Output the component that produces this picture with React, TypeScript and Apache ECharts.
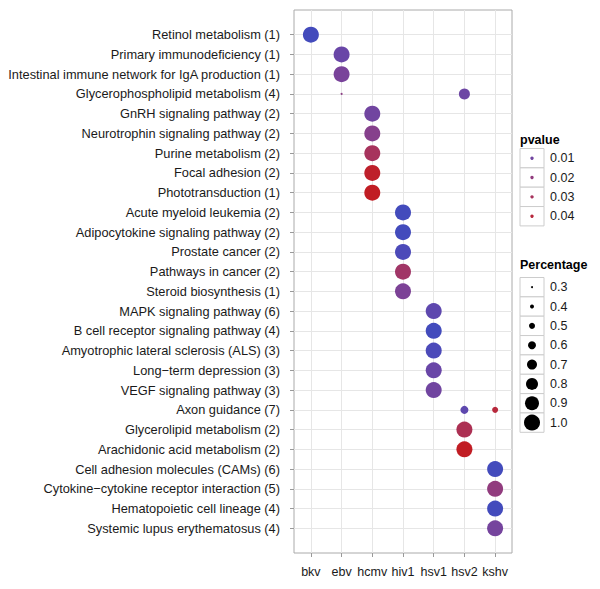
import React, { useEffect, useRef } from "react";
import * as echarts from "echarts";

const viruses = ["bkv", "ebv", "hcmv", "hiv1", "hsv1", "hsv2", "kshv"];

const pathways = [
  "Retinol metabolism (1)",
  "Primary immunodeficiency (1)",
  "Intestinal immune network for IgA production (1)",
  "Glycerophospholipid metabolism (4)",
  "GnRH signaling pathway (2)",
  "Neurotrophin signaling pathway (2)",
  "Purine metabolism (2)",
  "Focal adhesion (2)",
  "Phototransduction (1)",
  "Acute myeloid leukemia (2)",
  "Adipocytokine signaling pathway (2)",
  "Prostate cancer (2)",
  "Pathways in cancer (2)",
  "Steroid biosynthesis (1)",
  "MAPK signaling pathway (6)",
  "B cell receptor signaling pathway (4)",
  "Amyotrophic lateral sclerosis (ALS) (3)",
  "Long\u2212term depression (3)",
  "VEGF signaling pathway (3)",
  "Axon guidance (7)",
  "Glycerolipid metabolism (2)",
  "Arachidonic acid metabolism (2)",
  "Cell adhesion molecules (CAMs) (6)",
  "Cytokine\u2212cytokine receptor interaction (5)",
  "Hematopoietic cell lineage (4)",
  "Systemic lupus erythematosus (4)",
];

// one entry per point
const pointPathway = [0, 1, 2, 3, 3, 4, 5, 6, 7, 8, 9, 10, 11, 12, 13, 14, 15, 16, 17, 18, 19, 19, 20, 21, 22, 23, 24, 25];
const pointVirus = [0, 1, 1, 1, 5, 2, 2, 2, 2, 2, 3, 3, 3, 3, 3, 4, 4, 4, 4, 4, 5, 6, 5, 5, 6, 6, 6, 6];
const pointPvalue = [
  0.002, 0.008, 0.012, 0.018, 0.009, 0.010, 0.016, 0.030, 0.045, 0.047,
  0.002, 0.002, 0.003, 0.027, 0.013, 0.006, 0.002, 0.003, 0.008, 0.010,
  0.006, 0.040, 0.033, 0.047, 0.002, 0.020, 0.002, 0.011,
];
const pointPercentage = [
  1.0, 1.0, 1.0, 0.3, 0.75, 1.0, 1.0, 1.0, 1.0, 1.0,
  1.0, 1.0, 1.0, 1.0, 1.0, 1.0, 1.0, 1.0, 1.0, 1.0,
  0.6, 0.5, 1.0, 1.0, 1.0, 1.0, 1.0, 1.0,
];

const pvalueBreaks = [0.01, 0.02, 0.03, 0.04];
const percentageBreaks = [0.3, 0.4, 0.5, 0.6, 0.7, 0.8, 0.9, 1.0];

const P_MIN = 0.001;
const P_MAX = 0.048;
const LOW = "#3a4cc0";
const HIGH = "#c21b20";

function hexToRgb(h: string) {
  return [1, 3, 5].map((i) => parseInt(h.slice(i, i + 2), 16));
}
function toLin(c: number) {
  c /= 255;
  return c <= 0.04045 ? c / 12.92 : Math.pow((c + 0.055) / 1.055, 2.4);
}
function fromLin(c: number) {
  const v = c <= 0.0031308 ? 12.92 * c : 1.055 * Math.pow(c, 1 / 2.4) - 0.055;
  return Math.max(0, Math.min(255, Math.round(v * 255)));
}
function rgbToLab(rgb: number[]) {
  const [r, g, b] = rgb.map(toLin);
  const x = (0.4124 * r + 0.3576 * g + 0.1805 * b) / 0.95047;
  const y = 0.2126 * r + 0.7152 * g + 0.0722 * b;
  const z = (0.0193 * r + 0.1192 * g + 0.9505 * b) / 1.08883;
  const f = (t: number) => (t > 0.008856 ? Math.cbrt(t) : 7.787 * t + 16 / 116);
  const fx = f(x), fy = f(y), fz = f(z);
  return [116 * fy - 16, 500 * (fx - fy), 200 * (fy - fz)];
}
function labToRgb(lab: number[]) {
  const fy = (lab[0] + 16) / 116;
  const fx = fy + lab[1] / 500;
  const fz = fy - lab[2] / 200;
  const fi = (t: number) => (t * t * t > 0.008856 ? t * t * t : (t - 16 / 116) / 7.787);
  const x = fi(fx) * 0.95047, y = fi(fy), z = fi(fz) * 1.08883;
  const r = 3.2406 * x - 1.5372 * y - 0.4986 * z;
  const g = -0.9689 * x + 1.8758 * y + 0.0415 * z;
  const b = 0.0557 * x - 0.204 * y + 1.057 * z;
  return [fromLin(r), fromLin(g), fromLin(b)];
}
const labLow = rgbToLab(hexToRgb(LOW));
const labHigh = rgbToLab(hexToRgb(HIGH));
function pColor(p: number) {
  const t = Math.max(0, Math.min(1, (p - P_MIN) / (P_MAX - P_MIN)));
  const lab = labLow.map((v, i) => v + (labHigh[i] - v) * t);
  const [r, g, b] = labToRgb(lab);
  return `rgb(${r},${g},${b})`;
}
function pctSize(pct: number) {
  return Math.max(2, 20 * pct - 4);
}

const FONT = "Liberation Sans";
const FS = 12.5;
const FS_Y = 12.8;
const GRID = "#e6e6e6";

export default function App() {
  const ref = useRef<HTMLDivElement>(null);
  useEffect(() => {
    if (!ref.current) return;
    const chart = echarts.init(ref.current, null, { renderer: "svg" });

    const data = pointPathway.map((py, i) => ({
      value: [pointVirus[i], py, pointPvalue[i], pointPercentage[i]],
      symbolSize: pctSize(pointPercentage[i]),
      itemStyle: { color: pColor(pointPvalue[i]) },
    }));

    const graphics: any[] = [];
    const keyX = 520, keyW = 24, keyH = 19.35;
    graphics.push({
      type: "text", left: 520, top: 133,
      style: { text: "pvalue", font: `bold ${FS}px ${FONT}`, fill: "#000" },
    });
    const pTop = 148.5;
    pvalueBreaks.forEach((p, i) => {
      const y = pTop + i * keyH;
      graphics.push({
        type: "rect", shape: { x: keyX, y, width: keyW, height: keyH },
        style: { fill: "#fff", stroke: "#cccccc", lineWidth: 1 },
      });
      graphics.push({
        type: "circle", shape: { cx: keyX + keyW / 2, cy: y + keyH / 2, r: 1.7 },
        style: { fill: pColor(p) },
      });
      graphics.push({
        type: "text", x: 550, y: y + keyH / 2,
        style: { text: p.toFixed(2), font: `${FS}px ${FONT}`, fill: "#1a1a1a", verticalAlign: "middle" },
      });
    });
    graphics.push({
      type: "text", left: 520, top: 258,
      style: { text: "Percentage", font: `bold ${FS}px ${FONT}`, fill: "#000" },
    });
    const sTop = 277.5;
    percentageBreaks.forEach((s, i) => {
      const y = sTop + i * keyH;
      graphics.push({
        type: "rect", shape: { x: keyX, y, width: keyW, height: keyH },
        style: { fill: "#fff", stroke: "#cccccc", lineWidth: 1 },
      });
      graphics.push({
        type: "circle", shape: { cx: keyX + keyW / 2, cy: y + keyH / 2, r: pctSize(s) / 2 },
        style: { fill: "#000" },
      });
      graphics.push({
        type: "text", x: 550, y: y + keyH / 2,
        style: { text: s.toFixed(1), font: `${FS}px ${FONT}`, fill: "#1a1a1a", verticalAlign: "middle" },
      });
    });

    chart.setOption({
      animation: false,
      backgroundColor: "#ffffff",
      textStyle: { fontFamily: FONT },
      grid: {
        left: 294, top: 10, width: 218, height: 543,
        show: true, borderColor: "#aaaaaa", borderWidth: 1, backgroundColor: "#ffffff",
      },
      xAxis: {
        type: "value",
        min: -0.55,
        max: 6.55,
        axisLine: { show: false, onZero: false },
        axisTick: {
          show: true, length: 4, customValues: viruses.map((_, i) => i),
          lineStyle: { color: "#999999" },
        },
        axisLabel: {
          customValues: viruses.map((_, i) => i),
          formatter: (v: number) => viruses[Math.round(v)] ?? "",
          color: "#1a1a1a", fontSize: FS, fontFamily: FONT, margin: 12,
        },
        splitLine: { show: true, lineStyle: { color: GRID, width: 1 } },
      },
      yAxis: {
        type: "value",
        inverse: true,
        min: -1.25,
        max: 26.25,
        axisLine: { show: false, onZero: false },
        axisTick: {
          show: true, length: 4, customValues: pathways.map((_, i) => i),
          lineStyle: { color: "#999999" },
        },
        axisLabel: {
          customValues: pathways.map((_, i) => i),
          formatter: (v: number) => pathways[Math.round(v)] ?? "",
          color: "#1a1a1a", fontSize: FS_Y, fontFamily: FONT, margin: 14,
        },
        splitLine: { show: true, lineStyle: { color: GRID, width: 1 } },
      },
      series: [
        {
          type: "scatter",
          data,
          itemStyle: { opacity: 1 },
          z: 3,
        },
      ],
      graphic: graphics,
    });
    return () => chart.dispose();
  }, []);
  return (
    <div
      ref={ref}
      style={{ position: "fixed", left: 0, top: 0, width: 600, height: 589, background: "#fff" }}
    />
  );
}
